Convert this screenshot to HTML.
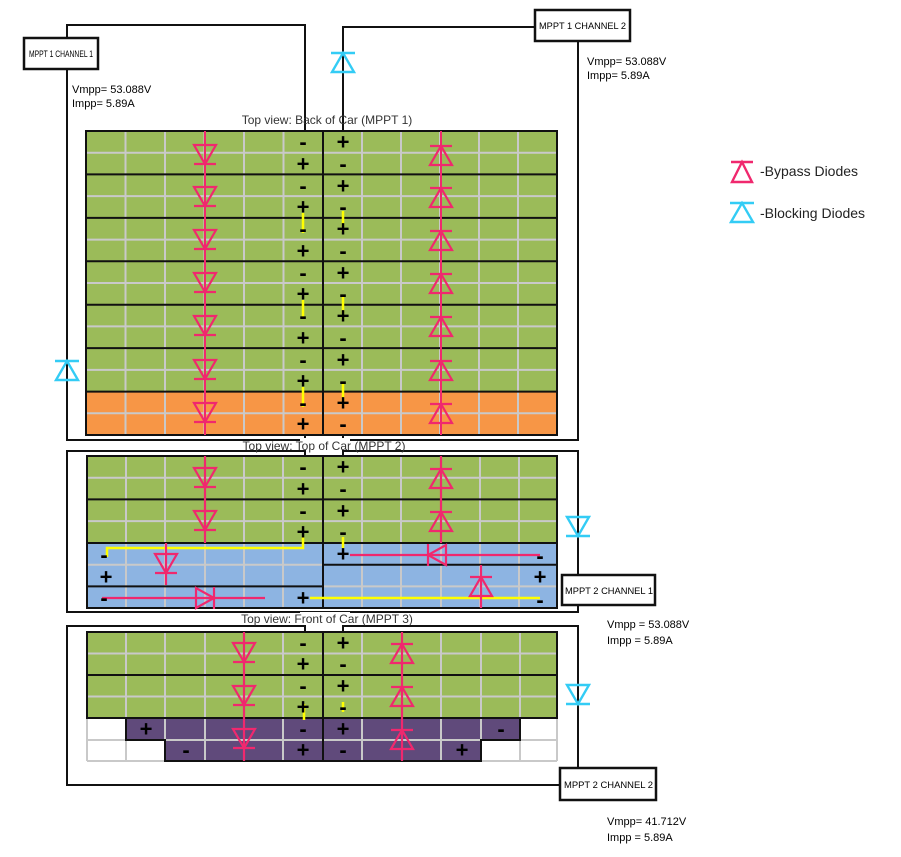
<!DOCTYPE html>
<html><head><meta charset="utf-8"><style>
body{margin:0;background:#fff}
svg{display:block}
text{font-family:"Liberation Sans",sans-serif}
.s{font-weight:bold;font-size:22px;text-anchor:middle;dominant-baseline:central}
.t{font-size:12px;fill:#333;text-anchor:middle}
.b{font-size:9.5px}
.v{font-size:11px}
</style></head><body>
<svg width="901" height="857" viewBox="0 0 901 857" xmlns="http://www.w3.org/2000/svg">
<defs>
<g id="dd" fill="none" stroke="#f0286e" stroke-width="2.2"><path d="M-11,-10 L11,-10 L0,9 Z"/><path d="M-11,9 L11,9"/></g>
<g id="du" fill="none" stroke="#f0286e" stroke-width="2.2"><path d="M-11,10 L11,10 L0,-9 Z"/><path d="M-11,-9 L11,-9"/></g>
<g id="dr" fill="none" stroke="#f0286e" stroke-width="2.2"><path d="M-9,-10 L-9,10 L9,0 Z"/><path d="M9,-11 L9,11"/></g>
<g id="dl" fill="none" stroke="#f0286e" stroke-width="2.2"><path d="M9,-10 L9,10 L-9,0 Z"/><path d="M-9,-11 L-9,11"/></g>
<g id="bu" fill="none" stroke="#33ccf5" stroke-width="2.4"><path d="M-11,10 L11,10 L0,-9 Z"/><path d="M-12,-9 L12,-9"/></g>
<g id="bd" fill="none" stroke="#33ccf5" stroke-width="2.4"><path d="M-11,-10 L11,-10 L0,9 Z"/><path d="M-12,9 L12,9"/></g>
</defs>

<g fill="none" stroke="#111" stroke-width="2">
<path d="M67,38 V25 H305 V131"/>
<path d="M535,27 H343 V131"/>
<path d="M67,68 V440 H305 V435 M343,435 V440 H578 V42"/>
<path d="M305,456 V451 H67 V612 H578 V605 M578,575 V451 H343 V456"/>
<path d="M305,632 V626 H67 V785 H560 M578,768 V626 H343 V632"/>
</g>

<rect x="86" y="131" width="471" height="261" fill="#9bbb59"/>
<rect x="86" y="391.6" width="471" height="43.4" fill="#f79646"/>
<g stroke="#c9c9c9" stroke-width="2">
<path d="M125.5,131V435M165,131V435M204.5,131V435M244,131V435M283.5,131V435M362,131V435M401,131V435M440,131V435M479,131V435M518,131V435"/>
<path d="M86,152.7H557M86,196.1H557M86,239.6H557M86,283H557M86,326.4H557M86,369.9H557M86,413.3H557"/>
</g>
<g stroke="#111" stroke-width="2" fill="none">
<path d="M86,174.4H557M86,217.9H557M86,261.3H557M86,304.7H557M86,348.1H557M86,391.6H557"/>
<rect x="86" y="131" width="471" height="304"/>
<path d="M323,131V435"/>
</g>
<g stroke="#ffff00" stroke-width="2.5">
<path d="M303,213V233M343,211V232M303,300V319M343,297V319M303,387V407M343,384V405"/>
</g>
<g stroke="#f0286e" stroke-width="2"><path d="M205,131V435M441,131V435"/></g>
<use href="#dd" x="205" y="155"/><use href="#dd" x="205" y="197"/><use href="#dd" x="205" y="240"/><use href="#dd" x="205" y="283"/><use href="#dd" x="205" y="326"/><use href="#dd" x="205" y="370"/><use href="#dd" x="205" y="413"/>
<use href="#du" x="441" y="155"/><use href="#du" x="441" y="197"/><use href="#du" x="441" y="240"/><use href="#du" x="441" y="283"/><use href="#du" x="441" y="326"/><use href="#du" x="441" y="370"/><use href="#du" x="441" y="413"/>
<g>
<text class="s" x="303" y="142">-</text><text class="s" x="303" y="164">+</text><text class="s" x="303" y="186">-</text><text class="s" x="303" y="207">+</text><text class="s" x="303" y="229">-</text><text class="s" x="303" y="251">+</text><text class="s" x="303" y="273">-</text><text class="s" x="303" y="294">+</text><text class="s" x="303" y="316">-</text><text class="s" x="303" y="338">+</text><text class="s" x="303" y="360">-</text><text class="s" x="303" y="381">+</text><text class="s" x="303" y="403">-</text><text class="s" x="303" y="424">+</text>
<text class="s" x="343" y="142">+</text><text class="s" x="343" y="164">-</text><text class="s" x="343" y="186">+</text><text class="s" x="343" y="207">-</text><text class="s" x="343" y="229">+</text><text class="s" x="343" y="251">-</text><text class="s" x="343" y="273">+</text><text class="s" x="343" y="294">-</text><text class="s" x="343" y="316">+</text><text class="s" x="343" y="338">-</text><text class="s" x="343" y="360">+</text><text class="s" x="343" y="381">-</text><text class="s" x="343" y="403">+</text><text class="s" x="343" y="424">-</text>
</g>
<text class="t" x="327" y="124">Top view: Back of Car (MPPT 1)</text>

<rect x="87" y="456" width="470" height="87" fill="#9bbb59"/>
<rect x="87" y="543" width="470" height="65" fill="#8db4e2"/>
<g stroke="#c9c9c9" stroke-width="2">
<path d="M126,456V608M165,456V608M205,456V608M244,456V608M283,456V608M362,456V608M401,456V608M441,456V608M480,456V608M519,456V608"/>
<path d="M87,477.7H557M87,521.1H557M87,564.7H323M323,586.4H557"/>
</g>
<g stroke="#111" stroke-width="2" fill="none">
<path d="M87,499.4H557M87,543H557M323,564.7H557M87,586.4H323"/>
<rect x="87" y="456" width="470" height="152"/>
<path d="M323,456V608"/>
</g>
<g stroke="#ffff00" stroke-width="2.5" fill="none">
<path d="M107,557V548H303V537M343,537V548M310,598H540"/>
</g>
<g stroke="#f0286e" stroke-width="2.2" fill="none">
<path d="M205,456V543M441,456V543M166,543V585M102,598H265M350,555H540M481,565V608"/>
</g>
<use href="#dd" x="205" y="478"/><use href="#dd" x="205" y="521"/>
<use href="#du" x="441" y="478"/><use href="#du" x="441" y="521"/>
<use href="#dd" x="166" y="564"/><use href="#dr" x="205" y="598"/>
<use href="#dl" x="437" y="555"/><use href="#du" x="481" y="586"/>
<g>
<text class="s" x="303" y="467">-</text><text class="s" x="303" y="489">+</text><text class="s" x="303" y="511">-</text><text class="s" x="303" y="532">+</text>
<text class="s" x="343" y="467">+</text><text class="s" x="343" y="489">-</text><text class="s" x="343" y="511">+</text><text class="s" x="343" y="532">-</text>
<text class="s" x="104" y="555">-</text><text class="s" x="106" y="577">+</text><text class="s" x="104" y="598">-</text>
<text class="s" x="303" y="598">+</text><text class="s" x="343" y="554">+</text>
<text class="s" x="540" y="556">-</text><text class="s" x="540" y="577">+</text><text class="s" x="540" y="600">-</text>
</g>
<rect x="300" y="438" width="50" height="12" fill="#fff"/>
<text class="t" x="324" y="450">Top view: Top of Car (MPPT 2)</text>

<rect x="87" y="632" width="470" height="86" fill="#9bbb59"/>
<rect x="126" y="718" width="394" height="22" fill="#604a7b"/>
<rect x="165" y="740" width="316" height="21" fill="#604a7b"/>
<g stroke="#c9c9c9" stroke-width="2">
<path d="M126,632V761M165,632V761M205,632V761M244,632V761M283,632V761M362,632V761M402,632V761M441,632V761M481,632V761M520,632V761"/>
<path d="M87,653.5H557M87,696.5H557M87,740H557M87,761H165M481,761H557M87,718V761M557,718V761"/>
</g>
<g stroke="#111" stroke-width="2" fill="none">
<path d="M87,675H557"/>
<rect x="87" y="632" width="470" height="86"/>
<path d="M126,718V740H165V761H481V740H520V718M323,632V761"/>
</g>
<g stroke="#ffff00" stroke-width="2.5"><path d="M304,704V720M343,702V712"/></g>
<g stroke="#f0286e" stroke-width="2.2"><path d="M244,632V761M402,632V761"/></g>
<use href="#dd" x="244" y="653"/><use href="#dd" x="244" y="696"/><use href="#dd" x="244" y="739"/>
<use href="#du" x="402" y="653"/><use href="#du" x="402" y="696"/><use href="#du" x="402" y="739"/>
<g>
<text class="s" x="303" y="643">-</text><text class="s" x="303" y="664">+</text><text class="s" x="303" y="686">-</text><text class="s" x="303" y="707">+</text><text class="s" x="303" y="729">-</text><text class="s" x="303" y="750">+</text>
<text class="s" x="343" y="643">+</text><text class="s" x="343" y="664">-</text><text class="s" x="343" y="686">+</text><text class="s" x="343" y="707">-</text><text class="s" x="343" y="729">+</text><text class="s" x="343" y="750">-</text>
<text class="s" x="146" y="729">+</text><text class="s" x="501" y="729">-</text><text class="s" x="186" y="750">-</text><text class="s" x="462" y="750">+</text>
</g>
<rect x="300" y="612" width="50" height="12" fill="#fff"/>
<text class="t" x="327" y="623">Top view: Front of Car (MPPT 3)</text>

<use href="#bu" x="343" y="62"/>
<use href="#bu" x="67" y="370"/>
<use href="#bd" x="578" y="527"/>
<use href="#bd" x="578" y="695"/>

<g fill="#fff" stroke="#111" stroke-width="2.5">
<rect x="24" y="38" width="74" height="31"/>
<rect x="535" y="10" width="95" height="31"/>
<rect x="562" y="575" width="93" height="30"/>
<rect x="560" y="768" width="96" height="32"/>
</g>
<text class="b" x="29" y="57" textLength="64" lengthAdjust="spacingAndGlyphs">MPPT 1 CHANNEL 1</text>
<text class="b" x="539" y="29" textLength="87" lengthAdjust="spacingAndGlyphs">MPPT 1 CHANNEL 2</text>
<text class="b" x="565" y="594" textLength="88" lengthAdjust="spacingAndGlyphs">MPPT 2 CHANNEL 1</text>
<text class="b" x="564" y="788" textLength="89" lengthAdjust="spacingAndGlyphs">MPPT 2 CHANNEL 2</text>

<g>
<text class="v" x="72" y="93">Vmpp= 53.088V</text><text class="v" x="72" y="107">Impp= 5.89A</text>
<text class="v" x="587" y="65">Vmpp= 53.088V</text><text class="v" x="587" y="79">Impp= 5.89A</text>
<text class="v" x="607" y="628">Vmpp = 53.088V</text><text class="v" x="607" y="644">Impp = 5.89A</text>
<text class="v" x="607" y="825">Vmpp= 41.712V</text><text class="v" x="607" y="841">Impp = 5.89A</text>
</g>

<g fill="none" stroke="#f0286e" stroke-width="2.4"><path d="M732,182 L752,182 L742,162 Z"/><path d="M731,162 L753,162"/></g>
<text x="760" y="176" font-size="14" fill="#222">-Bypass Diodes</text>
<g fill="none" stroke="#33ccf5" stroke-width="2.4"><path d="M731,222 L753,222 L742,203 Z"/><path d="M730,203 L754,203"/></g>
<text x="760" y="218" font-size="14" fill="#222">-Blocking Diodes</text>
</svg>
</body></html>
